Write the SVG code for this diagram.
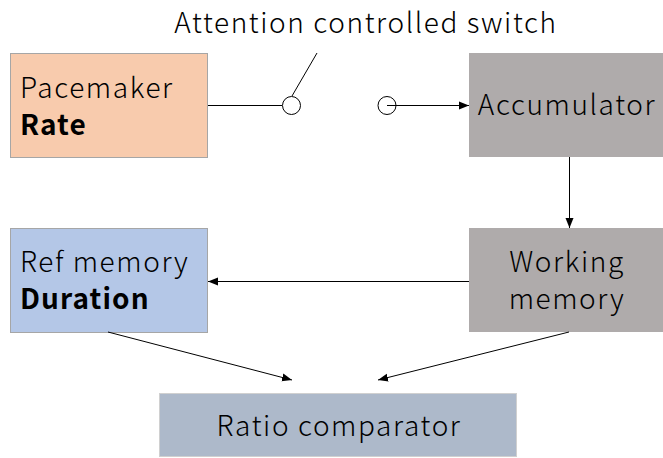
<svg xmlns="http://www.w3.org/2000/svg" width="663" height="458" viewBox="0 0 663 458">
  <style>
    text { font-family: "Noto Sans CJK JP", "Noto Sans", sans-serif; font-size: 28px; font-weight: 300; letter-spacing: 1.6px; fill: #000; }
    .b { font-weight: bold; letter-spacing: 1.1px; }
    .c { text-anchor: middle; }
    .edge { stroke: #000; stroke-width: 1; fill: none; }
  </style>
  <defs>
    <marker id="arrow" viewBox="0 0 10 10" refX="10" refY="5" markerWidth="10" markerHeight="10" markerUnits="userSpaceOnUse" orient="auto">
      <path d="M0,1 L10,5 L0,9 z" fill="#000"/>
    </marker>
  </defs>

  <text class="c" x="366" y="33">Attention controlled switch</text>

  <g id="pacemaker">
    <rect x="10.5" y="53.5" width="197" height="104" fill="#F8CBAD" stroke="#A6A6A6"/>
    <text x="20" y="98">Pacemaker</text>
    <text class="b" x="20" y="135">Rate</text>
  </g>

  <g id="accumulator">
    <rect x="469" y="53" width="194" height="104" fill="#AFABAB"/>
    <text class="c" x="567" y="115">Accumulator</text>
  </g>

  <g id="working-memory">
    <rect x="469" y="228" width="194" height="104" fill="#AFABAB"/>
    <text class="c" x="567" y="272">Working</text>
    <text class="c" x="567" y="309">memory</text>
  </g>

  <g id="ref-memory">
    <rect x="10.5" y="228.5" width="197" height="104" fill="#B4C7E7" stroke="#A6A6A6"/>
    <text x="20" y="272">Ref memory</text>
    <text class="b" x="20" y="309">Duration</text>
  </g>

  <g id="ratio-comparator">
    <rect x="159.5" y="393.5" width="357" height="63" fill="#ADB9CA" stroke="#D0D0D0"/>
    <text class="c" x="339" y="436">Ratio comparator</text>
  </g>

  <g id="connectors">
    <!-- switch -->
    <line class="edge" x1="208" y1="105.5" x2="282" y2="105.5"/>
    <circle class="edge" cx="291.5" cy="105.5" r="9"/>
    <line class="edge" x1="292" y1="96" x2="317" y2="53"/>
    <circle class="edge" cx="387" cy="105.5" r="9"/>
    <line class="edge" x1="387" y1="105.5" x2="469" y2="105.5" marker-end="url(#arrow)"/>
    <!-- flow -->
    <line class="edge" x1="569.5" y1="157" x2="569.5" y2="228" marker-end="url(#arrow)"/>
    <line class="edge" x1="469" y1="281.5" x2="208" y2="281.5" marker-end="url(#arrow)"/>
    <line class="edge" x1="108" y1="332" x2="292" y2="380" marker-end="url(#arrow)"/>
    <line class="edge" x1="569" y1="332" x2="378" y2="380" marker-end="url(#arrow)"/>
  </g>
</svg>
